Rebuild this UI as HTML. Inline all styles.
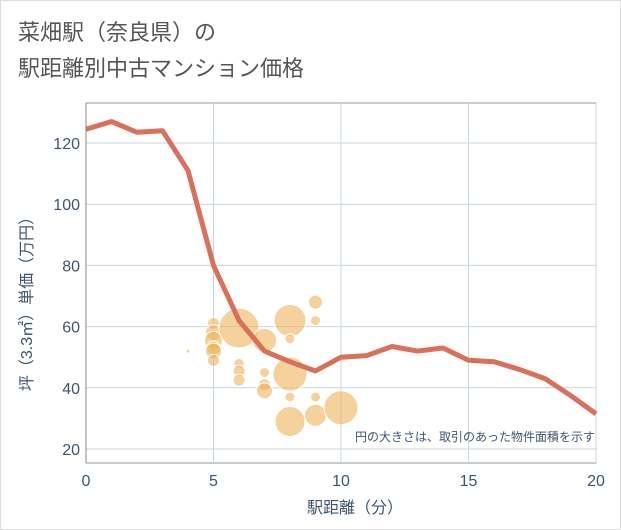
<!DOCTYPE html>
<html><head><meta charset="utf-8"><style>
body{margin:0;background:#fff;font-family:"Liberation Sans","Noto Sans CJK JP",sans-serif;}
#wrap{position:relative;width:619px;height:528px;border:1px solid #ddd;background:#fff;}
</style></head><body>
<div id="wrap">
<svg id="svg" width="621" height="530" style="position:absolute;left:-1px;top:-1px">
<text x="18" y="40" font-size="22" fill="#555">菜畑駅（奈良県）の</text>
<text x="18" y="76" font-size="22" fill="#555">駅距離別中古マンション価格</text>
<g id="grid"></g><g id="bubbles"></g><g id="line"></g><g id="axes"></g>
<text x="595" y="441" font-size="12" fill="#3d5570" text-anchor="end">円の大きさは、取引のあった物件面積を示す</text>
<text x="355" y="513" font-size="16" fill="#3d5570" text-anchor="middle">駅距離（分）</text>
<text transform="translate(32,300) rotate(-90)" font-size="16" fill="#3d5570" text-anchor="middle">坪（3.3㎡）単価（万円）</text>
</svg></div>
<script>
const xTicks=[0,5,10,15,20];
const yTicks=[20,40,60,80,100,120];
const lineX=[0,1,2,3,4,5,6,7,8,9,10,11,12,13,14,15,16,17,18,19,20];
const lineY=[124.5,127,123.5,124,111,80,62,52,48.5,45.5,50,50.5,53.5,52,53,49,48.5,46,43,37.5,31.5];
const bubX=[4,5,5,5,5,5,5,6,6,6,6,7,7,7,7,8,8,8,8,8,9,9,9,9,10];
const bubY=[52,61,58,55.5,53,52,49,59.5,48,45.5,42.5,55.5,45,41,39,62,56,44.5,37,29,68,62,37,31,33.5];
const bubR=[2,6,8,9,7,8,6,20,5,6,6,12,5,6,8,16,5,17,5,15,7,5,5,11,17];
const X=v=>86+v*25.5, Y=v=>143+(120-v)*3.06;
const ns="http://www.w3.org/2000/svg";
function mk(t,p,a){const e=document.createElementNS(ns,t);for(const k in a)e.setAttribute(k,a[k]);p.appendChild(e);return e;}
const g=document.getElementById('grid'),ax=document.getElementById('axes');
mk('rect',g,{x:86,y:103,width:510,height:360,fill:'none',stroke:'#999'});
xTicks.forEach(t=>{const l=mk('line',g,{x1:X(t),x2:X(t),y1:103,y2:463,stroke:'#c8d4e3'});

const tx=mk('text',ax,{x:X(t),y:486,'font-size':16,fill:'#3d5570','text-anchor':'middle'});tx.textContent=t;
});
yTicks.forEach(t=>{const l=mk('line',g,{x1:86,x2:596,y1:Y(t),y2:Y(t),stroke:'#c8d4e3'});

const tx=mk('text',ax,{x:80,y:Y(t)+6,'font-size':16,fill:'#3d5570','text-anchor':'end'});tx.textContent=t;
});
mk('line',ax,{x1:86,x2:86,y1:103,y2:463,stroke:'#888'});
const b=document.getElementById('bubbles');
bubX.forEach((v,i)=>{const c=mk('circle',b,{cx:X(v),cy:Y(bubY[i]),r:bubR[i],fill:'rgba(238,178,90,0.6)',stroke:'#fff','stroke-width':1});
});
const p=mk('polyline',document.getElementById('line'),{points:lineX.map((v,i)=>X(v)+','+Y(lineY[i])).join(' '),fill:'none',stroke:'#d9715a','stroke-width':5,'stroke-linejoin':'round'});

</script></body></html>
